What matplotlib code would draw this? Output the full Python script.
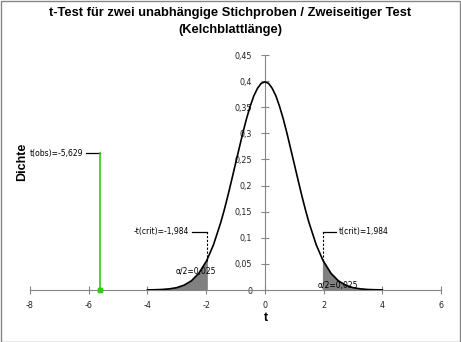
import matplotlib
matplotlib.use('Agg')
import matplotlib.pyplot as plt

# t density (df=98)
t_vals = [-4.0, -3.75, -3.5, -3.25, -3.0, -2.75, -2.5, -2.25, -1.984, -1.75, -1.5, -1.375,
          -1.25, -1.125, -1.0, -0.875, -0.75, -0.625, -0.5, -0.375, -0.25, -0.125, 0.0,
          0.125, 0.25, 0.375, 0.5, 0.625, 0.75, 0.875, 1.0, 1.125, 1.25, 1.375, 1.5, 1.75,
          1.984, 2.25, 2.5, 2.75, 3.0, 3.25, 3.5, 3.75, 4.0]
dens = [0.0002, 0.0005, 0.0010, 0.0022, 0.0045, 0.0093, 0.0177, 0.0320, 0.0560, 0.0865,
        0.1297, 0.1550, 0.1827, 0.2120, 0.2418, 0.2714, 0.3008, 0.3280, 0.3517, 0.3718,
        0.3862, 0.3958, 0.3984,
        0.3958, 0.3862, 0.3718, 0.3517, 0.3280, 0.3008, 0.2714, 0.2418, 0.2120, 0.1827,
        0.1550, 0.1297, 0.0865, 0.0560, 0.0320, 0.0177, 0.0093, 0.0045, 0.0022,
        0.0010, 0.0005, 0.0002]

t_obs = -5.629
t_crit = 1.984
obs_label_y = 0.262
crit_label_y = 0.112

xticks = [-8, -6, -4, -2, 0, 2, 4, 6]
yticks = [0, 0.05, 0.1, 0.15, 0.2, 0.25, 0.3, 0.35, 0.4, 0.45]

def de(v):
    return ('%g' % v).replace('.', ',')

fig = plt.figure(figsize=(4.61, 3.42), dpi=100)
ax = fig.add_axes([30 / 461, 1 - 290 / 342, 411 / 461, 235 / 342])
ax.set_xlim(-8, 6)
ax.set_ylim(0, 0.45)

tick_font = 'DejaVu Sans'
axis_col = '#868686'

# shaded tails
left_x = [x for x in t_vals if x <= -t_crit]
left_y = dens[:len(left_x)]
right_x = [x for x in t_vals if x >= t_crit]
right_y = dens[len(t_vals) - len(right_x):]
ax.fill_between(left_x, 0, left_y, color='#808080', zorder=2)
ax.fill_between(right_x, 0, right_y, color='#808080', zorder=2)

ax.plot(t_vals, dens, color='black', lw=1.2, zorder=4)

# critical values
ax.plot([-t_crit, -t_crit], [left_y[-1], crit_label_y], color='black', lw=0.8, ls=(0, (2, 1.5)), zorder=3)
ax.plot([-t_crit - 0.5, -t_crit], [crit_label_y, crit_label_y], color='black', lw=0.9)
ax.text(-t_crit - 0.6, crit_label_y, '-t(crit)=' + de(-t_crit), ha='right', va='center',
        fontsize=5.5, family=tick_font)
ax.plot([t_crit, t_crit], [right_y[0], crit_label_y], color='black', lw=0.8, ls=(0, (2, 1.5)), zorder=3)
ax.plot([t_crit, t_crit + 0.45], [crit_label_y, crit_label_y], color='black', lw=0.9)
ax.text(t_crit + 0.55, crit_label_y, 't(crit)=' + de(t_crit), ha='left', va='center',
        fontsize=5.5, family=tick_font)

ax.text(-2.35, 0.036, 'α/2=0,025', ha='center', va='center', fontsize=5.5, family=tick_font, zorder=5)
ax.text(2.5, 0.008, 'α/2=0,025', ha='center', va='center', fontsize=5.5, family=tick_font, zorder=5)

# observed t
ax.plot([t_obs, t_obs], [0, obs_label_y], color='#33cc11', lw=1.2, zorder=3)
ax.plot([t_obs, t_obs], [0, 0], marker='s', ms=3.5, color='#33cc11', zorder=6, clip_on=False)
ax.plot([t_obs - 0.45, t_obs], [obs_label_y, obs_label_y], color='black', lw=0.9)
ax.text(t_obs - 0.55, obs_label_y, 't(obs)=' + de(t_obs), ha='right', va='center',
        fontsize=5.5, family=tick_font)

# axes crossing at zero
for s in ['top', 'right']:
    ax.spines[s].set_visible(False)
ax.spines['left'].set_position(('data', 0))
ax.spines['left'].set_color(axis_col)
ax.spines['bottom'].set_color(axis_col)
ax.set_xticks(xticks)
ax.set_xticklabels([de(v) for v in xticks])
ax.set_yticks(yticks)
ax.set_yticklabels([de(v) for v in yticks])
ax.tick_params(axis='both', direction='inout', length=6, width=0.8, color=axis_col,
               labelsize=5.8, labelcolor='#222222')
ax.tick_params(axis='x', pad=5)
ax.tick_params(axis='y', pad=6)
for lab in ax.get_xticklabels() + ax.get_yticklabels():
    lab.set_family(tick_font)

fig.text(0.5, 1 - 13 / 342, 't-Test für zwei unabhängige Stichproben / Zweiseitiger Test',
         ha='center', va='center', fontsize=9.3, fontweight='bold', family='Liberation Sans')
fig.text(0.5, 1 - 30 / 342, '(Kelchblattlänge)', ha='center', va='center', fontsize=9.3,
         fontweight='bold', family='Liberation Sans')
fig.text(266 / 461, 1 - 318 / 342, 't', ha='center', va='center', fontsize=9,
         fontweight='bold', family='Liberation Sans')
fig.text(22 / 461, 1 - 162 / 342, 'Dichte', ha='center', va='center', rotation=90,
         fontsize=9, fontweight='bold', family='Liberation Sans')

fig.patches.append(plt.Rectangle((0.5 / 461, 0.5 / 342), 459.5 / 461, 340.5 / 342,
                                 transform=fig.transFigure, fill=False, ec='#868686', lw=1))

fig.savefig('out.png', dpi=100)
